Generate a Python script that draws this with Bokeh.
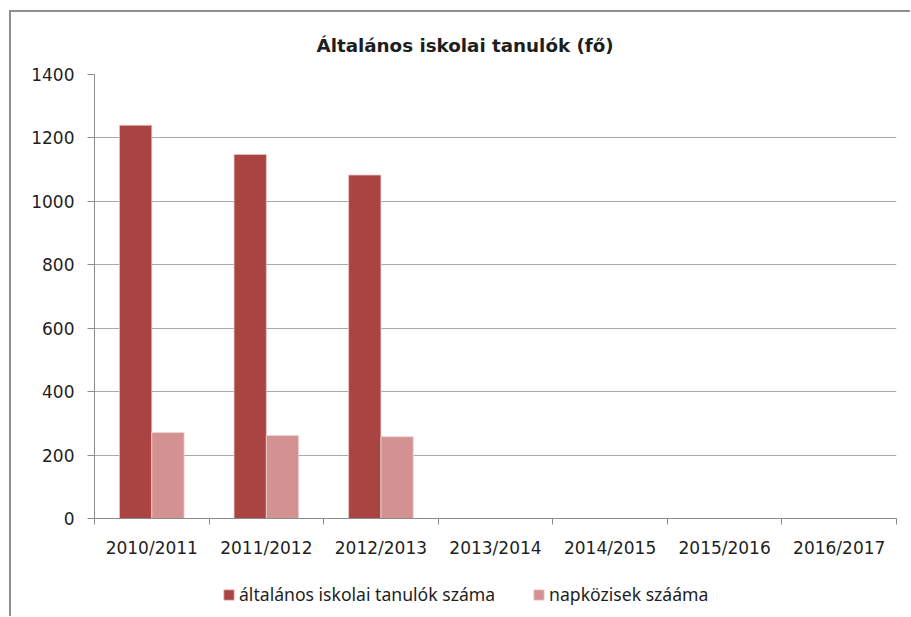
from bokeh.plotting import figure
from bokeh.layouts import column
from bokeh.models import (ColumnDataSource, FixedTicker, Legend, LegendItem, Range1d)
from bokeh.embed import file_html
from bokeh.resources import INLINE

# ---- data ----
years = ["2010/2011", "2011/2012", "2012/2013", "2013/2014", "2014/2015", "2015/2016", "2016/2017"]
students = [1240, 1148, 1083, 0, 0, 0, 0]
napkozi = [271, 262, 258, 0, 0, 0, 0]
series_names = ["általános iskolai tanulók száma", "napközisek szááma"]
title_text = "Általános iskolai tanulók (fő)"
y_ticks = [0, 200, 400, 600, 800, 1000, 1200, 1400]

DARK = "#A94442"
LIGHT = "#D39291"
GRID = "#A8A8A8"
AXIS = "#8C8C8C"
TEXT = "#1E1E1E"

n = len(years)
xs = list(range(1, n + 1))
bw = 0.282
has1 = [v > 0 for v in students]
has2 = [v > 0 for v in napkozi]
src1 = ColumnDataSource(dict(x=[x - bw / 2 for x, h in zip(xs, has1) if h],
                             top=[v for v, h in zip(students, has1) if h]))
src2 = ColumnDataSource(dict(x=[x + bw / 2 for x, h in zip(xs, has2) if h],
                             top=[v for v, h in zip(napkozi, has2) if h]))

p = figure(width=899, height=558, output_backend="svg", toolbar_location=None,
           x_range=Range1d(0.5, n + 0.5), y_range=Range1d(0, 1400),
           min_border_left=83, min_border_right=14, min_border_top=62, min_border_bottom=52,
           title=title_text)
p.outline_line_color = None
p.background_fill_color = "white"
p.border_fill_color = "white"

p.title.align = "left"
p.title.offset = 222
p.title.standoff = 38
p.title.text_font = "DejaVu Sans"
p.title.text_font_size = "18.3px"
p.title.text_font_style = "bold"
p.title.text_color = TEXT

bar1 = dict(fill_color=DARK, line_color="#E8C4C3", line_width=0.8)
bar2 = dict(fill_color=LIGHT, line_color="#F0D6D5", line_width=0.8)
p.vbar(x="x", top="top", width=bw, bottom=0, source=src1, **bar1)
p.vbar(x="x", top="top", width=bw, bottom=0, source=src2, **bar2)

# axes
p.xgrid.visible = False
p.ygrid.grid_line_color = GRID
p.ygrid.grid_line_width = 1
p.yaxis.ticker = FixedTicker(ticks=y_ticks)
p.yaxis.axis_line_color = AXIS
p.yaxis.major_tick_line_color = AXIS
p.yaxis.major_tick_in = 0
p.yaxis.major_tick_out = 7
p.yaxis.minor_tick_line_color = None
p.yaxis.major_label_standoff = 13
p.yaxis.major_label_text_font = "DejaVu Sans"
p.yaxis.major_label_text_font_size = "17px"
p.yaxis.major_label_text_color = TEXT

p.xaxis.ticker = FixedTicker(ticks=xs, minor_ticks=[x + 0.5 for x in range(0, n + 1)])
p.xaxis.major_label_overrides = {x: y for x, y in zip(xs, years)}
p.xaxis.axis_line_color = AXIS
p.xaxis.major_tick_line_color = None
p.xaxis.minor_tick_line_color = AXIS
p.xaxis.minor_tick_in = 0
p.xaxis.minor_tick_out = 6
p.xaxis.major_label_standoff = 13
p.xaxis.major_label_text_font = "DejaVu Sans"
p.xaxis.major_label_text_font_size = "17px"
p.xaxis.major_label_text_color = TEXT

# legend strip (separate figure below the chart)
lf = figure(width=899, height=46, output_backend="svg", toolbar_location=None,
            x_range=Range1d(0.5, n + 0.5), y_range=Range1d(0, 1400),
            x_axis_location=None, y_axis_location=None,
            min_border_left=0, min_border_right=0, min_border_top=0, min_border_bottom=0)
lf.outline_line_color = None
lf.xgrid.visible = False
lf.ygrid.visible = False
lr1 = lf.vbar(x="x", top="top", width=bw, bottom=0, source=src1, **bar1)
lr2 = lf.vbar(x="x", top="top", width=bw, bottom=0, source=src2, **bar2)
lr1.visible = False
lr2.visible = False

legend = Legend(items=[LegendItem(label=series_names[0], renderers=[lr1]),
                       LegendItem(label=series_names[1], renderers=[lr2])],
                orientation="horizontal", location=(128, 10))
legend.border_line_color = None
legend.background_fill_alpha = 0
legend.inactive_fill_alpha = 0
legend.label_text_font = "Noto Sans"
legend.label_text_font_size = "17.6px"
legend.label_text_color = TEXT
legend.glyph_width = 13
legend.glyph_height = 13
legend.label_standoff = 4
legend.spacing = 37
legend.padding = 0
legend.margin = 0
lf.add_layout(legend, "center")

layout = column(p, lf, spacing=0,
                styles={"margin-left": "9px", "margin-top": "10px",
                        "border-left": "2px solid #8F8F8F", "border-top": "2px solid #8F8F8F"})

open("out.html", "w").write(file_html(layout, INLINE))
